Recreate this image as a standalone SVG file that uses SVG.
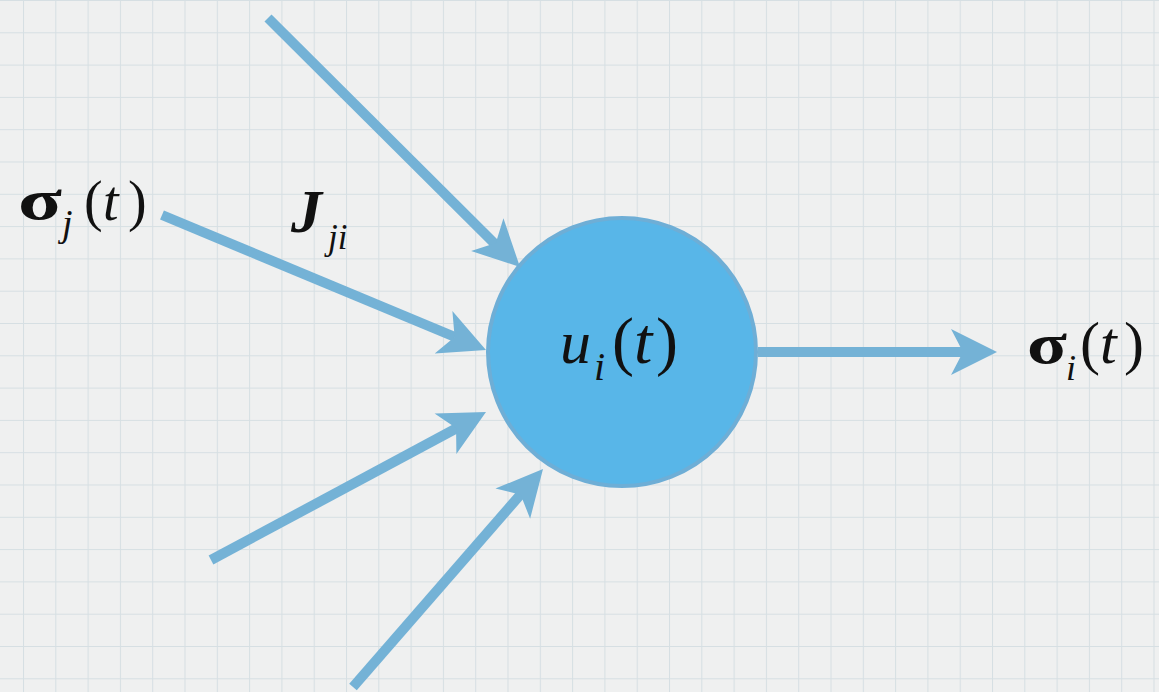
<svg xmlns="http://www.w3.org/2000/svg" width="1159" height="692" viewBox="0 0 1159 692">
<style>
.conn{stroke:#74b2d6;stroke-width:10;fill:none;stroke-linecap:butt}
.ghost{stroke:none;fill:none}
.math{font-family:"Liberation Serif","Times New Roman",serif;fill:#111}
.it{font-style:italic}
.sig{font-weight:bold}
</style>
<defs>
<pattern id="grid" x="23" y="0" width="32.3" height="32.3" patternUnits="userSpaceOnUse">
<rect width="32.3" height="32.3" fill="#eff0f0"/>
<path d="M0 0V32.3M0 0H32.3" stroke="#d6dfe3" stroke-width="2" fill="none"/>
</pattern>
<marker id="ah" markerUnits="userSpaceOnUse" markerWidth="60" markerHeight="60" viewBox="-50 -30 60 60" refX="0" refY="0" orient="auto">
<path d="M0 0L-46 -23L-34 0L-46 23Z" fill="#74b2d6"/>
</marker>
</defs>
<rect width="1159" height="692" fill="url(#grid)"/>
<g id="connectors">
<line class="conn" x1="268" y1="18" x2="496" y2="245"/>
<path class="ghost" d="M268 18L520 267" marker-end="url(#ah)"/>
<line class="conn" x1="162" y1="215" x2="455" y2="337"/>
<path class="ghost" d="M162 215L486 350" marker-end="url(#ah)"/>
<line class="conn" x1="211" y1="560" x2="457" y2="428"/>
<path class="ghost" d="M211 560L486 412" marker-end="url(#ah)"/>
<line class="conn" x1="353" y1="687" x2="521" y2="494"/>
<path class="ghost" d="M353 687L543 469" marker-end="url(#ah)"/>
<line class="conn" x1="758" y1="352" x2="965" y2="352"/>
<path class="ghost" d="M758 352L997 352" marker-end="url(#ah)"/>
</g>
<g id="node-ui">
<circle cx="622" cy="352" r="134" fill="#58b6e8" stroke="#6eaed6" stroke-width="4"/>
<text class="math it" x="560" y="363" font-size="62">u</text>
<text class="math it" x="594" y="380" font-size="40">i</text>
<text class="math" y="363" font-size="66"><tspan x="612">(</tspan><tspan class="it" x="634">t</tspan><tspan x="656">)</tspan></text>
</g>
<g id="input-sigma-j">
<text class="math sig" x="18" y="219" font-size="58" textLength="44" lengthAdjust="spacingAndGlyphs">σ</text>
<text class="math it" x="62" y="236" font-size="38">j</text>
<text class="math" y="220" font-size="56"><tspan x="84">(</tspan><tspan class="it" x="103">t</tspan><tspan x="128">)</tspan></text>
</g>
<g id="weight-J">
<text class="math it sig" x="291" y="232" font-size="62">J</text>
<text class="math it" x="328" y="249" font-size="35">ji</text>
</g>
<g id="output-sigma-i">
<text class="math sig" x="1027" y="363" font-size="58" textLength="40" lengthAdjust="spacingAndGlyphs">σ</text>
<text class="math it" x="1066" y="380" font-size="36">i</text>
<text class="math" y="363" font-size="60"><tspan x="1080">(</tspan><tspan class="it" x="1100">t</tspan><tspan x="1124">)</tspan></text>
</g>
</svg>
